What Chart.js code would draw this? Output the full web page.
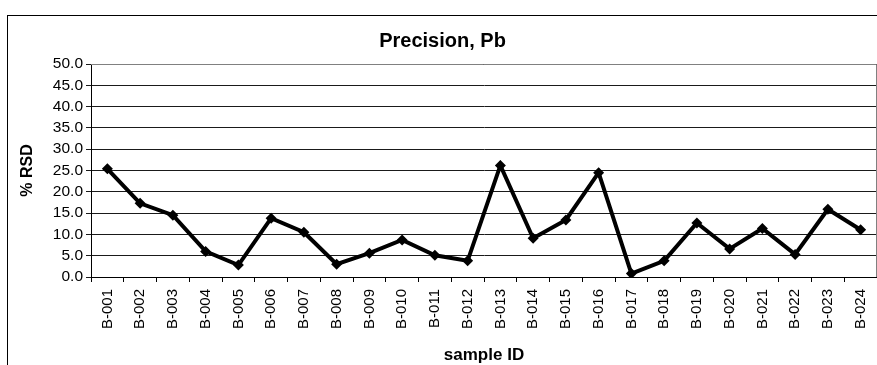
<!DOCTYPE html>
<html>
<head>
<meta charset="utf-8">
<script src="https://cdn.jsdelivr.net/npm/chart.js@4.4.1/dist/chart.umd.min.js"></script>
<style>
    html, body { margin: 0; padding: 0; background: #fff; overflow: hidden; width: 877px; height: 365px; }
    .frame {
        position: absolute; left: 7px; top: 15px;
        width: 882px; height: 360px;
        border: 1px solid #000; background: #fff;
    }
    canvas { display: block; }
</style>
</head>
<body>
<div class="frame">
    <canvas id="rsdChart" width="882" height="350"></canvas>
</div>
<script>
// Sample IDs along the x axis
const samples = ['B-001', 'B-002', 'B-003', 'B-004', 'B-005', 'B-006', 'B-007', 'B-008',
    'B-009', 'B-010', 'B-011', 'B-012', 'B-013', 'B-014', 'B-015', 'B-016',
    'B-017', 'B-018', 'B-019', 'B-020', 'B-021', 'B-022', 'B-023', 'B-024'];

// Relative standard deviation for Pb, in percent
const rsdPb = [25.4, 17.3, 14.5, 6.0, 2.8, 13.8, 10.5, 3.0,
    5.6, 8.7, 5.1, 3.8, 26.2, 9.1, 13.4, 24.5,
    0.8, 3.8, 12.7, 6.6, 11.4, 5.3, 15.9, 11.1];

// y axis range
const yMin = 0;
const yMax = 50;
const yStep = 5;

const FONT = 'Arial, "Liberation Sans", sans-serif';

// gray frame on the top and right of the plot area
const plotFrame = {
    id: 'plotFrame',
    afterDraw(chart) {
        const { ctx, chartArea: a } = chart;
        ctx.save();
        ctx.strokeStyle = '#808080';
        ctx.lineWidth = 1;
        ctx.beginPath();
        ctx.moveTo(a.left, a.top + 0.5);
        ctx.lineTo(a.right - 0.5, a.top + 0.5);
        ctx.lineTo(a.right - 0.5, a.bottom);
        ctx.stroke();
        ctx.restore();
    }
};

new Chart(document.getElementById('rsdChart'), {
    type: 'line',
    data: {
        labels: samples,
        datasets: [{
            label: 'Pb',
            data: rsdPb,
            borderColor: '#000',
            backgroundColor: '#000',
            borderWidth: 4,
            tension: 0,
            pointStyle: 'rectRot',
            pointRadius: 5.5,
            pointBorderWidth: 0,
            pointBackgroundColor: '#000'
        }]
    },
    options: {
        responsive: false,
        animation: false,
        layout: { padding: { left: 0, right: 13, top: 0, bottom: 0 } },
        plugins: {
            legend: { display: false },
            tooltip: { enabled: false },
            title: {
                display: true,
                text: 'Precision, Pb',
                color: '#000',
                font: { family: FONT, size: 20, weight: 'bold' },
                padding: { top: 13, bottom: 11 }
            }
        },
        scales: {
            x: {
                type: 'category',
                offset: true,
                grid: {
                    offset: true,
                    drawOnChartArea: false,
                    drawTicks: true,
                    tickLength: 5,
                    color: '#000'
                },
                border: { display: true, color: '#000', width: 1 },
                ticks: {
                    color: '#000',
                    font: { family: FONT, size: 15 },
                    minRotation: 90,
                    maxRotation: 90,
                    autoSkip: false,
                    padding: 7
                },
                title: {
                    display: true,
                    text: 'sample ID',
                    color: '#000',
                    font: { family: FONT, size: 17, weight: 'bold' },
                    padding: { top: 1, bottom: 0 }
                },
                afterFit(scale) { scale.height = 89; }
            },
            y: {
                min: yMin,
                max: yMax,
                grid: {
                    color: '#1a1a1a',
                    lineWidth: 1,
                    drawTicks: true,
                    tickLength: 5
                },
                border: { display: true, color: '#000', width: 1 },
                ticks: {
                    stepSize: yStep,
                    autoSkip: false,
                    color: '#000',
                    font: { family: FONT, size: 15.5 },
                    padding: 3,
                    callback: v => v.toFixed(1)
                },
                title: {
                    display: true,
                    text: '% RSD',
                    color: '#000',
                    font: { family: FONT, size: 16, weight: 'bold' },
                    padding: { top: 10, bottom: 4 }
                },
                afterFit(scale) { scale.width = 83; }
            }
        }
    },
    plugins: [plotFrame]
});
</script>
</body>
</html>
